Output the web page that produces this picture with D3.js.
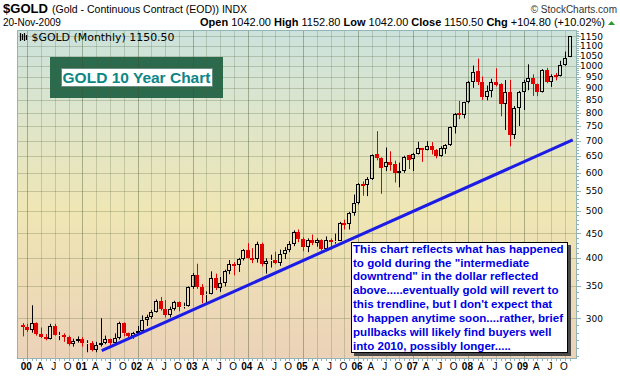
<!DOCTYPE html>
<html>
<head>
<meta charset="utf-8">
<script src="https://cdn.jsdelivr.net/npm/d3@7"></script>
<style>
  body { margin: 0; background: #fff; }
  svg { display: block; }
</style>
</head>
<body>
<script>
// monthly candles, Dec 1999 .. Nov 2009 ($GOLD continuous contract)
var opens = [
  291,
  288, 283, 293, 278, 274, 272, 289, 277, 277, 274, 265, 269,   // 2000
  272, 266, 267, 258, 264, 267, 271, 266, 273, 293, 279, 275,   // 2001
  279, 282, 297, 302, 309, 326, 314, 305, 313, 324, 317, 318,   // 2002
  348, 368, 348, 335, 337, 363, 346, 355, 376, 388, 386, 398,   // 2003
  416, 400, 397, 427, 388, 394, 396, 391, 408, 416, 428, 453,   // 2004
  438, 422, 435, 429, 435, 417, 435, 432, 434, 472, 470, 496,   // 2005
  519, 570, 566, 584, 655, 645, 617, 633, 627, 600, 605, 652,   // 2006
  640, 656, 674, 670, 682, 670, 650, 671, 684, 746, 800, 790,   // 2007
  840, 927, 977, 925, 861, 886, 927, 915, 834, 884, 718, 816,   // 2008
  883, 927, 942, 916, 883, 978, 927, 955, 953, 1003, 1042       // 2009
];
var highs = [
  293,
  292, 319, 294, 287, 278, 292, 292, 281, 279, 276, 272, 275,
  274, 270, 269, 268, 300, 276, 272, 279, 295, 294, 280, 281,
  289, 304, 305, 312, 328, 332, 327, 317, 326, 325, 323, 349,
  372, 389, 353, 341, 375, 371, 365, 378, 396, 392, 400, 417,
  429, 419, 432, 430, 399, 406, 412, 416, 421, 433, 456, 458,
  441, 439, 447, 439, 437, 443, 439, 449, 475, 480, 498, 541,
  571, 576, 588, 655, 732, 646, 677, 665, 636, 630, 651, 654,
  660, 696, 676, 698, 695, 672, 681, 688, 748, 798, 846, 842,
  930, 1001, 1035, 950, 910, 940, 988, 920, 934, 935, 825, 887,
  935, 1007, 960, 919, 984, 990, 960, 966, 1024, 1070, 1152.8
];
var lows = [
  275,
  281, 280, 276, 273, 270, 271, 276, 270, 268, 263, 262, 267,
  262, 255, 256, 255, 262, 265, 264, 265, 271, 275, 271, 272,
  277, 281, 289, 299, 308, 311, 301, 301, 311, 310, 314, 317,
  345, 345, 322, 322, 336, 343, 340, 349, 370, 368, 374, 395,
  399, 390, 391, 384, 371, 382, 388, 385, 398, 411, 423, 431,
  413, 411, 425, 422, 414, 414, 416, 428, 434, 458, 458, 489,
  516, 538, 537, 580, 637, 543, 605, 606, 573, 560, 600, 611,
  605, 655, 632, 668, 655, 643, 648, 657, 682, 724, 775, 778,
  836, 900, 912, 850, 848, 860, 906, 786, 736, 681, 705, 750,
  810, 890, 866, 865, 880, 920, 904, 933, 950, 1000, 1042
];
var closes = [
  288,
  283, 293, 278, 274, 272, 289, 277, 277.5, 274, 265, 269, 272,
  266, 267, 258, 264, 267, 271, 266, 273, 293, 279, 275, 279,
  282, 297, 302, 309, 326, 314, 305, 313, 324, 317, 318, 348,
  368, 348, 335, 337, 363, 346, 355, 376, 388, 386, 398, 416,
  400, 397, 427, 388, 394, 396, 391, 408, 416, 428, 453, 438,
  422, 435, 429, 435, 417, 435, 432, 434, 472, 470, 496, 519,
  570, 566, 584, 654, 643, 614, 633, 624, 600, 604, 648, 638,
  656, 674, 668, 682, 668, 650, 674, 684, 746, 796, 790, 840,
  927, 972, 925, 861, 886, 927, 912, 834, 884, 718, 816, 883,
  927, 942, 916, 883, 978, 927, 953, 953, 1003, 1040, 1150.5
];
var priceTicks = [300, 350, 400, 450, 500, 550, 600, 650, 700, 750, 800, 850,
                  900, 950, 1000, 1050, 1100, 1150];
var yearLabels = ["00", "01", "02", "03", "04", "05", "06", "07", "08", "09"];
var quarterLetters = {3: "A", 6: "J", 9: "O"};
// trendline anchors: [month index from Dec 1999, price]
var trendline = [[17.2, 257], [119.7, 702]];
var quote = [["Open", " 1042.00 "], ["High", " 1152.80 "], ["Low", " 1042.00 "],
             ["Close", " 1150.50 "], ["Chg", " +104.80 (+10.02%)"]];
var noteLines = [
  "This chart reflects what has happened",
  "to gold during the \"intermediate",
  "downtrend\" in the dollar reflected",
  "above.....eventually gold will revert to",
  "this trendline, but I don't expect that",
  "to happen anytime soon....rather, brief",
  "pullbacks will likely find buyers well",
  "into 2010, possibly longer....."
];

var width = 620, height = 376;
var plot = {left: 17, right: 577, top: 30, bottom: 359};

var svg = d3.select("body").append("svg")
    .attr("width", width)
    .attr("height", height);

var dates = d3.timeMonth.range(new Date(1999, 11, 1), new Date(2009, 11, 1));
var bars = dates.map(function(d, i) {
  return {date: d, o: opens[i], h: highs[i], l: lows[i], c: closes[i]};
});

var x = d3.scaleLinear()
    .domain([0, dates.length - 1])
    .range([22.7, 569.5]);
var y = d3.scaleLog()
    .domain([247.5, 1186])
    .range([358.5, 30]);

var defs = svg.append("defs");
var grad = defs.append("linearGradient")
    .attr("id", "bg")
    .attr("x1", 0).attr("y1", 0).attr("x2", 0).attr("y2", 1);
grad.append("stop").attr("offset", "0%").attr("stop-color", "#cbe2dc");
grad.append("stop").attr("offset", "25%").attr("stop-color", "#dde5cc");
grad.append("stop").attr("offset", "55%").attr("stop-color", "#efe6b4");
grad.append("stop").attr("offset", "100%").attr("stop-color", "#ebd2b8");

svg.append("rect")
    .attr("x", plot.left).attr("y", plot.top)
    .attr("width", plot.right - plot.left)
    .attr("height", plot.bottom - plot.top)
    .attr("fill", "url(#bg)");

// green title panel sits under the grid
svg.append("rect")
    .attr("x", 50).attr("y", 57)
    .attr("width", 173).attr("height", 41)
    .attr("fill", "#2c6a4e");

// grid
var grid = svg.append("g").attr("class", "grid");
var yearIdx = [], quarterIdx = [];
dates.forEach(function(d, i) {
  if (d.getMonth() === 0) yearIdx.push(i);
  else if (d.getMonth() % 3 === 0) quarterIdx.push(i);
});
grid.selectAll("line.q")
  .data(quarterIdx)
  .enter().append("line")
    .attr("class", "q")
    .attr("x1", d => Math.round(x(d)) + 0.5)
    .attr("x2", d => Math.round(x(d)) + 0.5)
    .attr("y1", plot.top).attr("y2", plot.bottom)
    .attr("stroke", "rgba(70,90,50,0.22)");
grid.selectAll("line.yr")
  .data(yearIdx)
  .enter().append("line")
    .attr("class", "yr")
    .attr("x1", d => Math.round(x(d)) + 0.5)
    .attr("x2", d => Math.round(x(d)) + 0.5)
    .attr("y1", plot.top).attr("y2", plot.bottom)
    .attr("stroke", "rgba(60,80,40,0.38)");
grid.selectAll("line.h")
  .data(priceTicks)
  .enter().append("line")
    .attr("class", "h")
    .attr("x1", plot.left).attr("x2", plot.right)
    .attr("y1", d => Math.round(y(d)) + 0.5)
    .attr("y2", d => Math.round(y(d)) + 0.5)
    .attr("stroke", "rgba(70,90,50,0.25)");

// title label
svg.append("rect")
    .attr("x", 61.5).attr("y", 68.5)
    .attr("width", 151).attr("height", 18)
    .attr("fill", "#fff")
    .attr("stroke", "#6d8c80");
svg.append("text")
    .attr("x", 136.5).attr("y", 83)
    .attr("text-anchor", "middle")
    .attr("font-family", "Liberation Sans, Arial, sans-serif")
    .attr("font-weight", "bold")
    .attr("font-size", "15.5px")
    .attr("fill", "#0e8585")
    .text("GOLD 10 Year Chart");

// candles
var candles = svg.append("g").attr("class", "candles");
var cx = function(i) { return Math.round(x(i)) + 0.5; };
bars.forEach(function(b, i) {
  var up = b.c >= b.o;
  var col = up ? "#000" : "#e00000";
  var top = Math.round(y(Math.max(b.o, b.c)));
  var bot = Math.round(y(Math.min(b.o, b.c)));
  if (bot - top < 1) bot = top + 1;
  var g = candles.append("g");
  if (up) {
    g.append("line")
        .attr("x1", cx(i)).attr("x2", cx(i))
        .attr("y1", y(b.h)).attr("y2", top)
        .attr("stroke", col);
    g.append("line")
        .attr("x1", cx(i)).attr("x2", cx(i))
        .attr("y1", bot).attr("y2", y(b.l))
        .attr("stroke", col);
    g.append("rect")
        .attr("x", cx(i) - 2).attr("y", top + 0.5)
        .attr("width", 3).attr("height", Math.max(bot - top - 1, 0))
        .attr("fill", "none")
        .attr("stroke", col);
  } else {
    g.append("line")
        .attr("x1", cx(i)).attr("x2", cx(i))
        .attr("y1", y(b.h)).attr("y2", y(b.l))
        .attr("stroke", col);
    g.append("rect")
        .attr("x", cx(i) - 2.5).attr("y", top)
        .attr("width", 4).attr("height", Math.max(bot - top, 2))
        .attr("fill", col);
  }
});

// trendline
svg.append("line")
    .attr("x1", x(trendline[0][0])).attr("y1", y(trendline[0][1]))
    .attr("x2", x(trendline[1][0])).attr("y2", y(trendline[1][1]))
    .attr("stroke", "#1c1ce6")
    .attr("stroke-width", 3);

// commentary box
svg.append("rect")
    .attr("x", 354).attr("y", 245)
    .attr("width", 217).attr("height", 111)
    .attr("fill", "#4a4a4a");
svg.append("rect")
    .attr("x", 351.5).attr("y", 242.5)
    .attr("width", 216).attr("height", 110)
    .attr("fill", "#fff")
    .attr("stroke", "#000");
svg.append("g")
  .selectAll("text")
  .data(noteLines)
  .enter().append("text")
    .attr("x", 353)
    .attr("y", (d, i) => 252.6 + i * 13.9)
    .attr("font-family", "Liberation Sans, Arial, sans-serif")
    .attr("font-weight", "bold")
    .attr("font-size", "11.6px")
    .attr("fill", "#0000e6")
    .text(d => d);

// frame
svg.append("rect")
    .attr("x", plot.left + 0.5).attr("y", plot.top + 0.5)
    .attr("width", plot.right - plot.left - 1)
    .attr("height", plot.bottom - plot.top - 1)
    .attr("fill", "none")
    .attr("stroke", "#93b4b4");

// right axis
var yAxis = d3.axisRight(y)
    .tickValues(priceTicks)
    .tickSize(0)
    .tickPadding(0)
    .tickFormat(d3.format("d"));
var ya = svg.append("g")
    .attr("transform", `translate(${603},0)`)
    .call(yAxis);
ya.select(".domain").remove();
ya.selectAll("text")
    .attr("text-anchor", "end")
    .attr("font-family", "DejaVu Sans, Verdana, sans-serif")
    .attr("font-size", "9px")
    .attr("fill", "#000");

var minorY = d3.range(250, 1181, 10);
svg.append("g")
  .selectAll("line")
  .data(minorY)
  .enter().append("line")
    .attr("x1", plot.right).attr("x2", plot.right + 2)
    .attr("y1", d => Math.round(y(d)) + 0.5)
    .attr("y2", d => Math.round(y(d)) + 0.5)
    .attr("stroke", "#93b4b4");
svg.append("g")
  .selectAll("line")
  .data(priceTicks)
  .enter().append("line")
    .attr("x1", plot.right).attr("x2", plot.right + 4)
    .attr("y1", d => Math.round(y(d)) + 0.5)
    .attr("y2", d => Math.round(y(d)) + 0.5)
    .attr("stroke", "#93b4b4");

// bottom month ticks + labels
svg.append("g")
  .selectAll("line")
  .data(d3.range(dates.length))
  .enter().append("line")
    .attr("x1", d => cx(d)).attr("x2", d => cx(d))
    .attr("y1", plot.bottom).attr("y2", plot.bottom + 2)
    .attr("stroke", "#93b4b4");

var xl = svg.append("g")
    .attr("font-family", "Liberation Sans, Arial, sans-serif")
    .attr("font-size", "10px")
    .attr("text-anchor", "middle");
xl.selectAll("text.yr")
  .data(yearIdx)
  .enter().append("text")
    .attr("x", d => x(d) - 1)
    .attr("y", 370)
    .attr("font-weight", "bold")
    .text((d, i) => yearLabels[i]);
xl.selectAll("text.q")
  .data(quarterIdx)
  .enter().append("text")
    .attr("x", d => x(d) - 1)
    .attr("y", 370)
    .text(d => quarterLetters[dates[d].getMonth()]);

// in-plot legend
var leg = svg.append("g");
leg.append("path")
    .attr("d", "M20.5,33v8M22.5,34v6M24.5,33v8M26.5,35v5")
    .attr("stroke", "#000")
    .attr("stroke-width", 1.2);
leg.append("text")
    .attr("x", 31.5).attr("y", 40.5)
    .attr("font-family", "DejaVu Sans, Verdana, sans-serif")
    .attr("font-size", "11px")
    .attr("textLength", 143)
    .attr("lengthAdjust", "spacingAndGlyphs")
    .text("$GOLD (Monthly) 1150.50");

// header
var hdr = svg.append("g")
    .attr("font-family", "Liberation Sans, Arial, sans-serif")
    .attr("fill", "#000");
hdr.append("text")
    .attr("x", 3).attr("y", 12.5)
    .attr("font-weight", "bold")
    .attr("font-size", "13.5px")
    .attr("textLength", 45)
    .attr("lengthAdjust", "spacingAndGlyphs")
    .text("$GOLD");
hdr.append("text")
    .attr("x", 52).attr("y", 12.5)
    .attr("font-size", "11px")
    .attr("textLength", 195)
    .attr("lengthAdjust", "spacingAndGlyphs")
    .text("(Gold - Continuous Contract (EOD)) INDX");
hdr.append("text")
    .attr("x", 617).attr("y", 12.5)
    .attr("text-anchor", "end")
    .attr("font-size", "10px")
    .attr("fill", "#333")
    .text("\u00a9 StockCharts.com");
hdr.append("text")
    .attr("x", 3).attr("y", 26)
    .attr("font-size", "10px")
    .text("20-Nov-2009");
var q = hdr.append("text")
    .attr("x", 200).attr("y", 26)
    .attr("font-size", "11px")
    .attr("textLength", 405)
    .attr("lengthAdjust", "spacingAndGlyphs");
quote.forEach(function(p) {
  q.append("tspan").attr("font-weight", "bold").text(p[0]);
  q.append("tspan").text(p[1]);
});
hdr.append("path")
    .attr("d", "M608,25h7l-3.5,-4z")
    .attr("fill", "#2a9a2a");
</script>
</body>
</html>
